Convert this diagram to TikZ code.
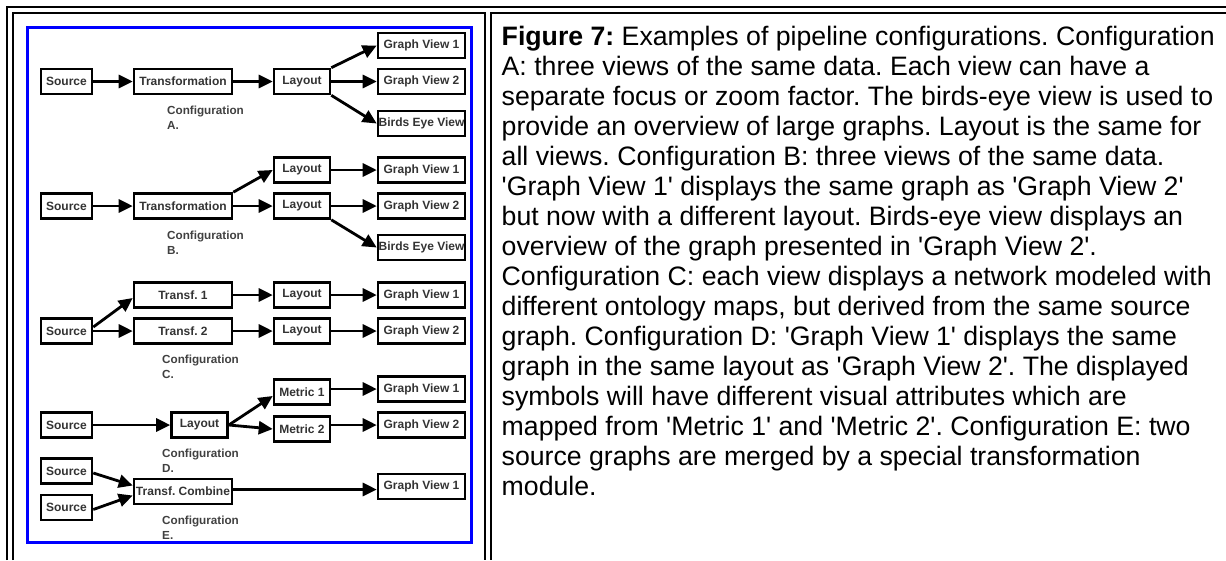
\documentclass[tikz,border=0pt]{standalone}
\usepackage{fontspec}
\newfontfamily\arial{Liberation Sans}
\usetikzlibrary{arrows.meta,calc}
\frenchspacing
\begin{document}
\begin{tikzpicture}[x=1pt,y=-1pt,
  blk/.style={draw=black, line width=2.6pt, inner sep=0pt, minimum height=25pt,
    font=\arial\bfseries\fontsize{12}{12}\selectfont, text=black!80},
  src/.style={blk, minimum width=51pt},
  trf/.style={blk, minimum width=98pt},
  lay/.style={blk, minimum width=56pt},
  gv/.style={blk, minimum width=87pt},
  arr/.style={line width=2.8pt, -{Triangle[length=14pt,width=13pt]}},
  cfg/.style={anchor=west, align=left, inner sep=0pt,
    font=\arial\bfseries\fontsize{11.7}{15}\selectfont, text=black!75},
  capline/.style={anchor=base west, inner sep=0pt,
    font=\arial\fontsize{26.67}{30}\selectfont}]
\useasboundingbox (0,0) rectangle (1226,560);
% table frames
\draw[line width=2pt] (7,560) -- (7,7) -- (1226,7);
\draw[line width=2pt] (13,560) -- (13,13) -- (485,13) -- (485,560);
\draw[line width=2pt] (1226,13) -- (491,13) -- (491,560);
\draw[blue, line width=3.2pt] (27.5,27.5) rectangle (471.5,542.5);

% Configuration A
\node[src] (a1) at (66.5,81.5) {Source};
\node[trf] (a2) at (183,81.5) {Transformation};
\node[lay] (a3) at (302,81.5) {Layout};
\node[gv] (a4) at (421.5,45.5) {Graph View 1};
\node[gv] (a5) at (421.5,81.5) {Graph View 2};
\node[gv] (a6) at (421.5,123.5) {Birds Eye View};
\node[cfg] (ca) at (167,118) {Configuration\\A.};
\draw[arr] (a1) -- (a2);
\draw[arr] (a2) -- (a3);
\draw[arr] (a3.north east) -- (a4.west);
\draw[arr] (a3) -- (a5);
\draw[arr] (a3.south east) -- (a6.west);

% Configuration B
\node[lay] (b6) at (302,170) {Layout};
\node[gv] (b7) at (421.5,170) {Graph View 1};
\node[src] (b1) at (66.5,206) {Source};
\node[trf] (b2) at (183,206) {Transformation};
\node[lay] (b3) at (302,206) {Layout};
\node[gv] (b4) at (421.5,206) {Graph View 2};
\node[gv] (b5) at (421.5,247.5) {Birds Eye View};
\node[cfg] (cb) at (167,242.5) {Configuration\\B.};
\draw[arr] (b1) -- (b2);
\draw[arr] (b2.north east) -- (b6.west);
\draw[arr] (b2) -- (b3);
\draw[arr] (b3) -- (b4);
\draw[arr] (b3.south east) -- (b5.west);
\draw[arr] (b6) -- (b7);

% Configuration C
\node[trf] (c2) at (183,295) {Transf. 1};
\node[lay] (c3) at (302,295) {Layout};
\node[gv] (c4) at (421.5,295) {Graph View 1};
\node[src] (c1) at (66.5,331) {Source};
\node[trf] (c5) at (183,331) {Transf. 2};
\node[lay] (c6) at (302,331) {Layout};
\node[gv] (c7) at (421.5,331) {Graph View 2};
\node[cfg] (cc) at (162,367) {Configuration\\C.};
\draw[arr] ($(c1.east)+(0,-4)$) -- ($(c2.west)+(0,3)$);
\draw[arr] (c1) -- (c5);
\draw[arr] (c2) -- (c3);
\draw[arr] (c3) -- (c4);
\draw[arr] (c5) -- (c6);
\draw[arr] (c6) -- (c7);

% Configuration D
\node[lay] (d3) at (302,392) {Metric 1};
\node[gv] (d4) at (421.5,389) {Graph View 1};
\node[src] (d1) at (66.5,425) {Source};
\node[lay] (d2) at (199.5,425) {Layout};
\node[lay] (d5) at (302,429) {Metric 2};
\node[gv] (d6) at (421.5,425) {Graph View 2};
\node[cfg] (cd) at (162,460.5) {Configuration\\D.};
\draw[arr] (d1) -- (d2);
\draw[arr] (d2.east) -- ($(d3.west)+(0,4)$);
\draw[arr] (d2.east) -- (d5.west);
\draw[arr] (d3.east |- d4) -- (d4.west);
\draw[arr] (d5.east |- d6) -- (d6.west);

% Configuration E
\node[src] (e1) at (66.5,471) {Source};
\node[src] (e2) at (66.5,507.5) {Source};
\node[trf] (e3) at (183,491.5) {Transf. Combine};
\node[gv] (e4) at (421.5,486.5) {Graph View 1};
\node[cfg] (ce) at (162,528) {Configuration\\E.};
\draw[arr] ($(e1.east)+(0,2)$) -- ($(e3.west)+(0,-6)$);
\draw[arr] ($(e2.east)+(0,2)$) -- ($(e3.west)+(0,4)$);
\draw[arr] ($(e3.east)+(0,-2)$) -- ($(e3.east -| e4.west)+(0,-2)$);

% caption
\foreach \t [count=\i] in {
  {\textbf{Figure 7:} Examples of pipeline configurations. Configuration},
  {A: three views of the same data. Each view can have a},
  {separate focus or zoom factor. The birds-eye view is used to},
  {provide an overview of large graphs. Layout is the same for},
  {all views. Configuration B: three views of the same data.},
  {'Graph View 1' displays the same graph as 'Graph View 2'},
  {but now with a different layout. Birds-eye view displays an},
  {overview of the graph presented in 'Graph View 2'.},
  {Configuration C: each view displays a network modeled with},
  {different ontology maps, but derived from the same source},
  {graph. Configuration D: 'Graph View 1' displays the same},
  {graph in the same layout as 'Graph View 2'. The displayed},
  {symbols will have different visual attributes which are},
  {mapped from 'Metric 1' and 'Metric 2'. Configuration E: two},
  {source graphs are merged by a special transformation},
  {module.}}
  \node[capline] (cap\i) at (501.5,{45+30*(\i-1)}) {\t};
\end{tikzpicture}
\end{document}
